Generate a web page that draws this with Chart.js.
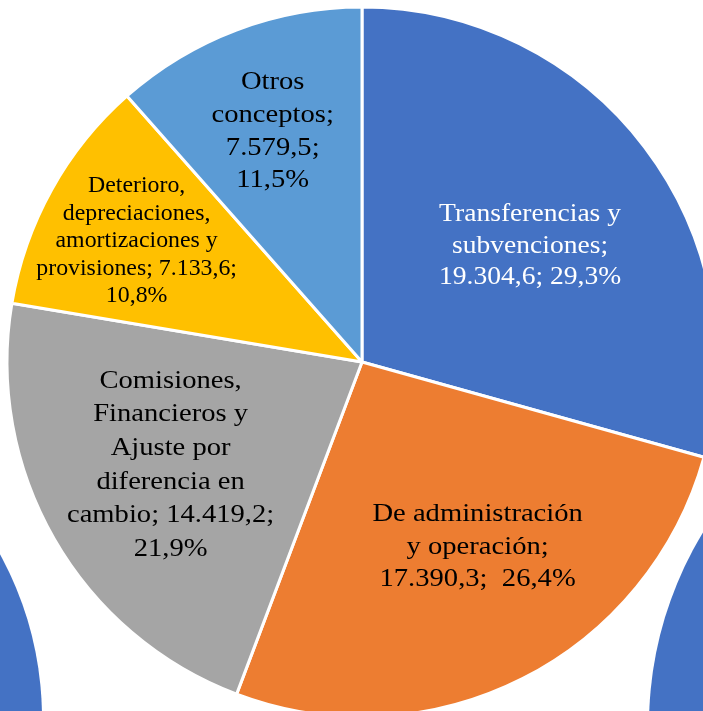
<!DOCTYPE html>
<html>
<head>
<meta charset="utf-8">
<script src="https://cdn.jsdelivr.net/npm/chart.js@4.4.1/dist/chart.umd.min.js"></script>
<style>
    html, body { margin: 0; padding: 0; background: #fff; overflow: hidden; }
    body { width: 703px; height: 711px; position: relative; }
    .blob { position: absolute; border-radius: 50%; background: #4472C4; }
    #wrap { position: absolute; left: 0; top: 0; width: 724px; height: 724px; }
</style>
</head>
<body>
<!-- bits of the neighbouring charts -->
<div class="blob" style="left:-638px; top:378px; width:680px; height:680px;"></div>
<div class="blob" style="left:649px; top:355px; width:740px; height:740px;"></div>
<div id="wrap"><canvas id="pieChart"></canvas></div>
<script>
const categories = [
    'Transferencias y subvenciones',
    'De administración y operación',
    'Comisiones, Financieros y Ajuste por diferencia en cambio',
    'Deterioro, depreciaciones, amortizaciones y provisiones',
    'Otros conceptos'
];
const values = [19304.6, 17390.3, 14419.2, 7133.6, 7579.5];
// label text with the line breaks used in the picture
const labelTemplates = [
    'Transferencias y\nsubvenciones;\n{v}; {p}',
    'De administración\ny operación;\n{v};  {p}',
    'Comisiones,\nFinancieros y\nAjuste por\ndiferencia en\ncambio; {v};\n{p}',
    'Deterioro,\ndepreciaciones,\namortizaciones y\nprovisiones; {v};\n{p}',
    'Otros\nconceptos;\n{v};\n{p}'
];
const colors = ['#4472C4', '#ED7D31', '#A5A5A5', '#FFC000', '#5B9BD5'];
const textColors = ['#ffffff', '#000000', '#000000', '#000000', '#000000'];
// label placement: fraction of radius, angle nudge (deg), font size, line height, width stretch
const labelPos = [
    { r: 0.578, da: 2.2, size: 26, lh: 31.5, sx: 1.06 },
    { r: 0.61, da: -5.4, size: 26, lh: 32.5, sx: 1.1 },
    { r: 0.61, da: 2.0, size: 26, lh: 33.6, sx: 1.1 },
    { r: 0.722, da: -0.6, size: 22.5, lh: 27.5, sx: 1.06 },
    { r: 0.701, da: -0.3, size: 26, lh: 32.7, sx: 1.1 }
];

const total = values.reduce((a, b) => a + b, 0);

function fmtNum(v) {
    const parts = v.toFixed(1).split('.');
    const ent = parts[0].replace(/\B(?=(\d{3})+(?!\d))/g, '.');
    return ent + ',' + parts[1];
}
function fmtPct(v) {
    return (v / total * 100).toFixed(1).replace('.', ',') + '%';
}

const sliceLabels = {
    id: 'sliceLabels',
    afterDatasetsDraw(chart) {
        const ctx = chart.ctx;
        const arcs = chart.getDatasetMeta(0).data;
        arcs.forEach(function (arc, i) {
            const p = labelPos[i];
            const a = (arc.startAngle + arc.endAngle) / 2 + p.da * Math.PI / 180;
            const cx = arc.x + Math.cos(a) * arc.outerRadius * p.r;
            const cy = arc.y + Math.sin(a) * arc.outerRadius * p.r;
            const lines = labelTemplates[i]
                .replace('{v}', fmtNum(values[i]))
                .replace('{p}', fmtPct(values[i]))
                .split('\n');
            ctx.save();
            ctx.translate(cx, cy);
            ctx.scale(p.sx, 1);
            ctx.font = p.size + 'px "Liberation Serif", "Times New Roman", serif';
            ctx.fillStyle = textColors[i];
            ctx.textAlign = 'center';
            ctx.textBaseline = 'alphabetic';
            lines.forEach(function (line, k) {
                const y = (k - (lines.length - 1) / 2) * p.lh + p.size * 0.33;
                ctx.fillText(line, 0, y);
            });
            ctx.restore();
        });
    }
};

document.addEventListener('DOMContentLoaded', function () {
    const ctx = document.getElementById('pieChart').getContext('2d');
    const pieChart = new Chart(ctx, {
        type: 'pie',
        data: {
            labels: categories,
            datasets: [{
                data: values,
                backgroundColor: colors,
                borderColor: '#ffffff',
                borderWidth: 3
            }]
        },
        options: {
            responsive: true,
            maintainAspectRatio: false,
            animation: false,
            layout: { padding: 5.5 },
            plugins: {
                legend: { display: false },
                tooltip: { enabled: false }
            }
        },
        plugins: [sliceLabels]
    });
});
</script>
</body>
</html>
